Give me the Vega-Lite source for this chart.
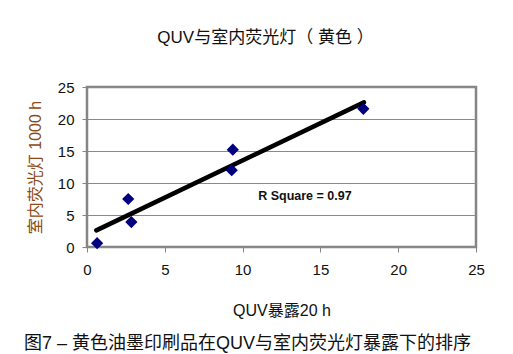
{
  "$schema": "https://vega.github.io/schema/vega-lite/v6.json",
  "background": "white",
  "padding": {"left": 24, "top": 27, "right": 5, "bottom": 5},
  "config": {
    "font": "Liberation Sans, Noto Sans CJK SC, sans-serif",
    "view": {"stroke": "#858585", "strokeWidth": 2.5},
    "axis": {"labelOverlap": false, "labelFlush": false, "labelBound": false}
  },
  "title": {
    "text": "图7 – 黄色油墨印刷品在QUV与室内荧光灯暴露下的排序",
    "orient": "bottom",
    "anchor": "start",
    "frame": "bounds",
    "fontSize": 18,
    "fontWeight": "normal",
    "color": "#111111",
    "offset": 16,
    "dx": -2
  },
  "datasets": {
    "points": [
      {"quv": 0.65, "indoor": 0.6},
      {"quv": 2.65, "indoor": 7.5},
      {"quv": 2.85, "indoor": 3.9},
      {"quv": 9.37, "indoor": 15.2},
      {"quv": 9.3, "indoor": 12.0},
      {"quv": 17.76, "indoor": 21.6}
    ],
    "trend": [
      {"quv": 0.6, "indoor": 2.6},
      {"quv": 17.8, "indoor": 22.6}
    ],
    "note": [
      {"quv": 11.0, "indoor": 7.9, "label": "R Square = 0.97"}
    ]
  },
  "vconcat": [
    {
      "title": {
        "text": "QUV与室内荧光灯（ 黄色 ）",
        "anchor": "middle",
        "frame": "group",
        "fontSize": 17,
        "fontWeight": "normal",
        "color": "#111111",
        "offset": 33,
        "dx": -16
      },
      "width": 389,
      "height": 160,
      "encoding": {
        "x": {
          "field": "quv", "type": "quantitative",
          "scale": {"domain": [0, 25], "nice": false},
          "axis": {
            "values": [0, 5, 10, 15, 20, 25],
            "grid": false,
            "domain": false,
            "labelOverlap": false,
            "labelFlush": false,
            "tickColor": "#858585",
            "tickSize": 5,
            "labelFontSize": 15,
            "labelColor": "#111111",
            "labelPadding": 10,
            "title": "QUV暴露20 h",
            "titleFontSize": 16,
            "titleFontWeight": "normal",
            "titleColor": "#111111",
            "titlePadding": 25
          }
        },
        "y": {
          "field": "indoor", "type": "quantitative",
          "scale": {"domain": [0, 25], "nice": false},
          "axis": {
            "values": [0, 5, 10, 15, 20, 25],
            "grid": true,
            "gridColor": "#8a8a8a",
            "gridWidth": 1,
            "domain": false,
            "labelOverlap": false,
            "labelFlush": false,
            "tickColor": "#858585",
            "tickSize": 5,
            "labelFontSize": 15,
            "labelColor": "#111111",
            "labelPadding": 8,
            "title": "室内荧光灯 1000 h",
            "titleFontSize": 16,
            "titleFontWeight": "normal",
            "titleColor": "#8a4b17",
            "titlePadding": 14
          }
        }
      },
      "layer": [
        {
          "data": {"name": "trend"},
          "mark": {"type": "line", "color": "black", "strokeWidth": 4.5, "strokeCap": "round"}
        },
        {
          "data": {"name": "points"},
          "mark": {"type": "point", "shape": "diamond", "filled": true, "size": 150, "color": "#000080", "opacity": 1}
        },
        {
          "data": {"name": "note"},
          "mark": {"type": "text", "align": "left", "baseline": "middle", "fontSize": 12.5, "fontWeight": "bold", "color": "#111111"},
          "encoding": {
            "text": {"field": "label"}
          }
        }
      ]
    }
  ]
}
